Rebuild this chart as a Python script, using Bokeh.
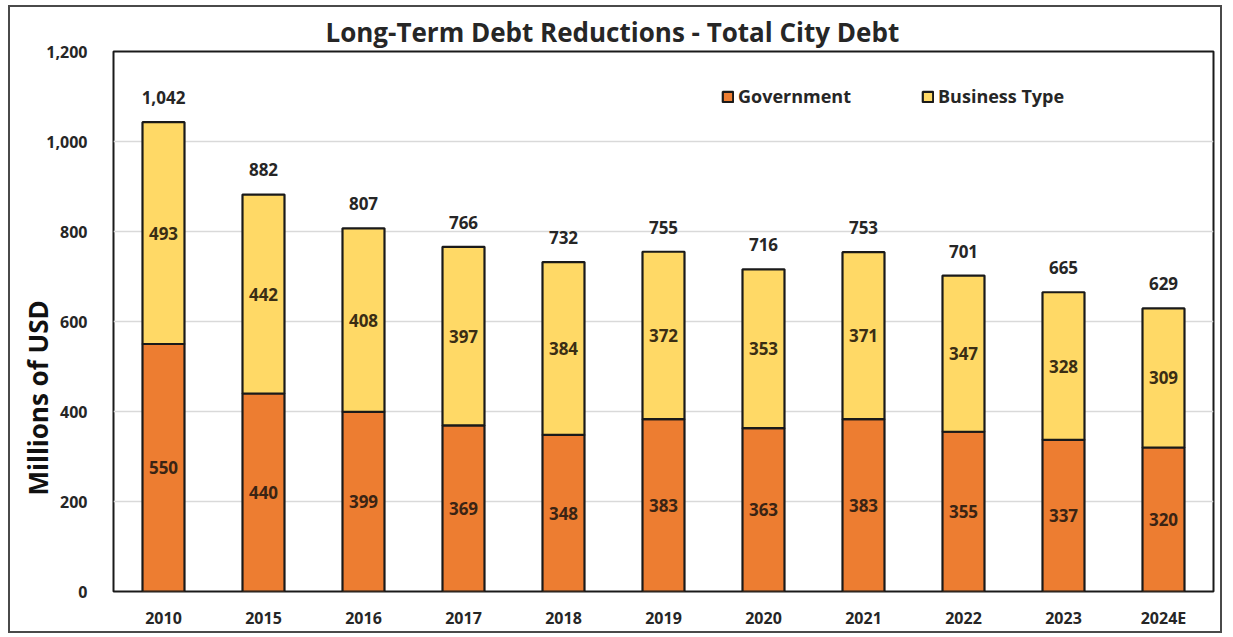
from bokeh.plotting import figure
from bokeh.models import (ColumnDataSource, Range1d, FactorRange, NumeralTickFormatter,
                          SingleIntervalTicker, Legend, LegendItem, Title)
from bokeh.layouts import column
from bokeh.embed import file_html
from bokeh.resources import INLINE
from bokeh.core.properties import value

# Long-term debt by fiscal year, millions of USD
years = ["2010", "2015", "2016", "2017", "2018", "2019", "2020", "2021", "2022", "2023", "2024E"]
government = [550, 440, 399, 369, 348, 383, 363, 383, 355, 337, 320]
business_type = [493, 442, 408, 397, 384, 372, 353, 371, 347, 328, 309]
totals = [1042, 882, 807, 766, 732, 755, 716, 753, 701, 665, 629]

FONT = "Open Sans"
TEXT = "#262626"
ORANGE = "#ED7D31"
YELLOW = "#FFD966"

p = figure(x_range=FactorRange(*years, range_padding=0), y_range=Range1d(0, 1200),
           width=1210, height=624, output_backend="svg", toolbar_location=None,
           min_border_left=103, min_border_right=7, min_border_top=44, min_border_bottom=38,
           background_fill_color="white", border_fill_color="white")

p.title = Title(text="Long-Term Debt Reductions - Total City Debt", align="left", offset=212,
                text_font=FONT, text_font_size="26px", text_font_style="bold",
                text_color=TEXT, standoff=4)

src = ColumnDataSource(dict(
    years=years,
    Government=government,
    Business=business_type,
    gov_mid=[g / 2 for g in government],
    bus_mid=[g + b / 2 for g, b in zip(government, business_type)],
    gov_txt=[str(g) for g in government],
    bus_txt=[str(b) for b in business_type],
    tot_y=[t + 55 for t in totals],
    tot_txt=[f"{t:,}" for t in totals],
))

bars = p.vbar_stack(["Government", "Business"], x="years", width=0.42, source=src,
                    fill_color=[ORANGE, YELLOW], line_color="#1a1a1a", line_width=2.2)

label_style = dict(text_font=value(FONT), text_font_style="bold", text_font_size="17px",
                   text_align="center", text_baseline="middle", source=src)
p.text(x="years", y="gov_mid", text="gov_txt", text_color="#3a2414", **label_style)
p.text(x="years", y="bus_mid", text="bus_txt", text_color="#3a2d14", **label_style)
p.text(x="years", y="tot_y", text="tot_txt", text_color=TEXT, **label_style)

legend = Legend(items=[LegendItem(label="Government", renderers=[bars[0]]),
                       LegendItem(label="Business Type", renderers=[bars[1]])],
                orientation="horizontal", location=(608, 483), spacing=70,
                padding=0, margin=0, glyph_width=13, glyph_height=13,
                label_standoff=4, label_text_font=FONT, label_text_font_style="bold",
                label_text_font_size="18px", label_text_color=TEXT,
                background_fill_alpha=0, border_line_alpha=0)
p.add_layout(legend)

# Frame and grid
p.outline_line_color = "#1a1a1a"
p.outline_line_width = 2
p.xgrid.grid_line_color = None
p.ygrid.grid_line_color = "#D9D9D9"
p.ygrid.grid_line_width = 1.5

p.yaxis.ticker = SingleIntervalTicker(interval=200)
p.yaxis.formatter = NumeralTickFormatter(format="0,0")
for ax in (p.xaxis[0], p.yaxis[0]):
    ax.axis_line_color = None
    ax.major_tick_line_color = None
    ax.minor_tick_line_color = None
    ax.major_label_text_font = FONT
    ax.major_label_text_font_style = "bold"
    ax.major_label_text_font_size = "16px"
    ax.major_label_text_color = TEXT
p.yaxis.major_label_standoff = 20
p.xaxis.major_label_standoff = 9

# Y axis title, set below the frame's middle
p.add_layout(Title(text="Millions of USD", align="left", offset=96, standoff=-25,
                   text_font=FONT, text_font_style="bold", text_font_size="26px",
                   text_color="#111111"), "left")

page = column(p, styles={"border": "2px solid #4a4a4a"}, margin=(5, 0, 0, 8))

open("out.html", "w").write(file_html(page, INLINE))
